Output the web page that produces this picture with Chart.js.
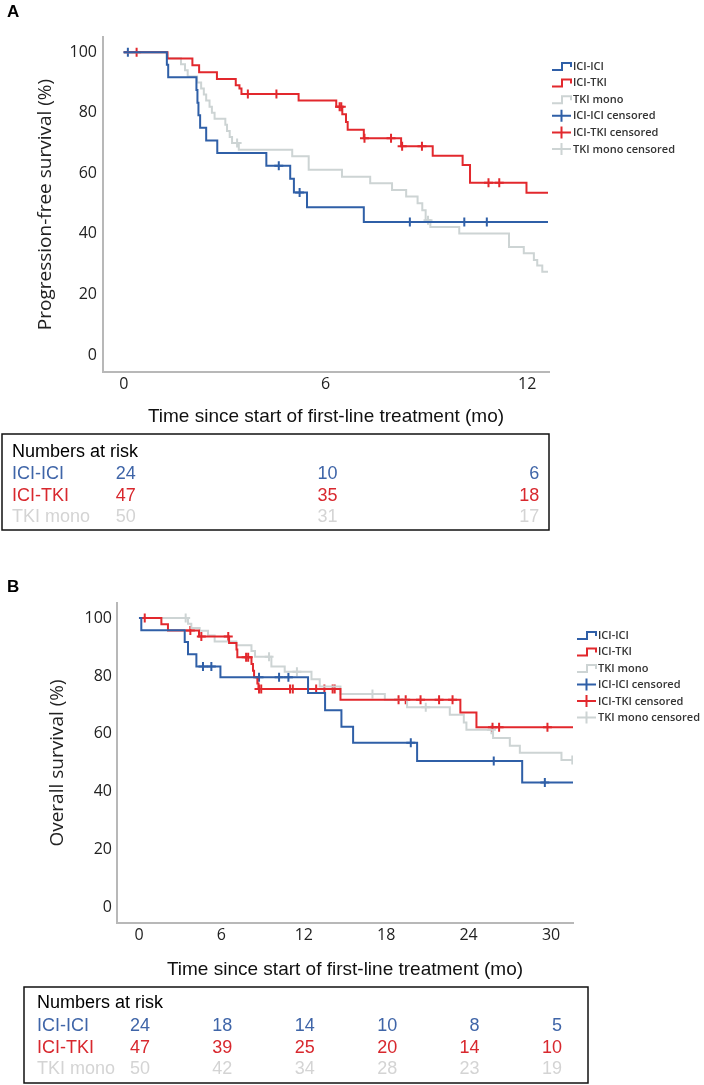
<!DOCTYPE html>
<html>
<head>
<meta charset="utf-8">
<script src="https://cdn.jsdelivr.net/npm/chart.js@4.4.1/dist/chart.umd.min.js"></script>
<style>
  html, body { margin: 0; padding: 0; background: #fff; }
  body { width: 704px; height: 1085px; position: relative; overflow: hidden; }
  canvas { position: absolute; left: 0; }
  #pfs { top: 0; }
  #os { top: 540px; }
</style>
</head>
<body>
<canvas id="pfs" width="704" height="540"></canvas>
<canvas id="os" width="704" height="545"></canvas>
<script>
// groups
const groups = ['ICI-ICI', 'ICI-TKI', 'TKI mono'];
const lineColors = ['#2f5fa7', '#e2282d', '#cdd4d4'];
const riskColors = ['#3f65a8', '#d8282e', '#d4d4d4'];

// A: progression-free survival (time in months, survival in %)
const pfsTicks = [0, 6, 12];
const pfsIciIciTime = [0, 1.28, 1.32, 2.16, 2.19, 2.22, 2.27, 2.45, 2.78, 4.24, 4.95, 5.06, 5.45, 7.14, 12.62];
const pfsIciIciSurv = [100, 95.8, 91.7, 87.5, 83.3, 79.2, 75.0, 70.8, 66.7, 62.5, 58.2, 53.7, 48.8, 43.9, 43.9];
const pfsIciIciCens = [0.12, 4.61, 5.23, 8.51, 10.13, 10.8];
const pfsIciTkiTime = [0, 1.3, 2.04, 2.24, 2.77, 3.33, 3.44, 3.5, 5.2, 6.32, 6.5, 6.61, 6.66, 7.14, 8.25, 9.19, 10.08, 10.3, 11.98, 12.62];
const pfsIciTkiSurv = [100, 97.9, 95.7, 93.4, 91.1, 89.1, 88.0, 86.2, 84.0, 82.0, 79.5, 76.9, 74.4, 71.6, 68.9, 65.8, 62.7, 56.9, 53.6, 53.6];
const pfsIciTkiCens = [0.38, 3.69, 4.54, 6.42, 6.47, 7.16, 7.95, 8.28, 8.87, 10.85, 11.17];
const pfsTkiMonoTime = [0, 1.28, 1.7, 1.82, 1.9, 2.18, 2.3, 2.38, 2.45, 2.55, 2.62, 2.7, 3.02, 3.07, 3.15, 3.22, 3.42, 5.01, 5.5, 6.49, 7.33, 7.98, 8.4, 8.74, 8.88, 8.98, 9.12, 9.98, 11.46, 11.9, 12.2, 12.3, 12.45, 12.62];
const pfsTkiMonoSurv = [100, 98, 96, 94, 92, 90, 88, 86, 84, 82, 80, 78, 76, 74, 72, 70, 67.8, 65.6, 61.2, 58.9, 56.7, 54.5, 52.3, 50.1, 47.8, 44.5, 42.3, 40.1, 35.7, 33.6, 31.4, 29.6, 27.5, 27.5];
const pfsTkiMonoCens = [3.37, 9.05];
const pfsRiskTimes = [0, 6, 12];
const pfsRiskIciIci = [24, 10, 6];
const pfsRiskIciTki = [47, 35, 18];
const pfsRiskTkiMono = [50, 31, 17];

// B: overall survival
const osTicks = [0, 6, 12, 18, 24, 30];
const osIciIciTime = [0, 0.17, 3.33, 3.57, 4.18, 5.93, 12.31, 13.55, 14.74, 15.59, 20.25, 27.9, 31.6];
const osIciIciSurv = [100, 95.8, 91.7, 87.5, 83.3, 79.6, 74.1, 68.2, 62.5, 56.9, 50.6, 43.2, 43.2];
const osIciIciCens = [4.66, 5.27, 8.74, 10.2, 10.88, 19.79, 25.83, 29.55];
const osIciTkiTime = [0, 1.63, 2.11, 4.37, 6.56, 7.1, 7.16, 8.19, 8.3, 8.38, 8.62, 8.7, 14.67, 23.4, 24.57, 31.6];
const osIciTkiSurv = [100, 97.9, 95.7, 93.6, 91.4, 89.1, 86.5, 84.1, 81.8, 79.6, 77.4, 75.5, 71.8, 67.4, 62.3, 62.3];
const osIciTkiCens = [0.42, 3.74, 4.54, 6.5, 7.8, 7.95, 8.74, 8.9, 11.0, 11.2, 12.9, 13.5, 14.1, 14.25, 18.9, 19.42, 20.5, 21.85, 22.83, 25.74, 26.22, 29.74];
const osTkiMonoTime = [0, 3.57, 3.81, 4.42, 5.03, 5.51, 7.09, 8.19, 8.45, 9.64, 10.61, 12.56, 13.16, 14.67, 17.9, 19.52, 22.63, 23.65, 23.84, 25.78, 27.0, 27.73, 30.76, 31.6];
const osTkiMonoSurv = [100, 98, 96.6, 95.6, 94.0, 91.9, 90.6, 88.6, 86.6, 83.3, 81.5, 78.9, 76.4, 73.8, 71.8, 69.2, 66.6, 63.9, 61.4, 58.6, 55.9, 53.5, 51.0, 51.0];
const osTkiMonoCens = [3.4, 9.47, 11.5, 17.0, 20.88, 25.66, 31.55];
const osRiskTimes = [0, 6, 12, 18, 24, 30];
const osRiskIciIci = [24, 18, 14, 10, 8, 5];
const osRiskIciTki = [47, 39, 25, 20, 14, 10];
const osRiskTkiMono = [50, 42, 34, 28, 23, 19];

const yTicks = [0, 20, 40, 60, 80, 100];

function toPoints(times, surv) {
    return times.map((t, i) => ({ x: t, y: surv[i] }));
}

// censor marks sit on the curve level at that time
function censorPoints(times, surv, cens) {
    return cens.map(c => {
        let y = surv[0];
        for (let i = 0; i < times.length; i++) {
            if (times[i] <= c) y = surv[i];
        }
        return { x: c, y: y };
    });
}

const kmDecor = {
    id: 'kmDecor',
    afterDraw(chart, args, o) {
        const ctx = chart.ctx;
        const xs = chart.scales.x;
        ctx.save();

        // panel letter
        ctx.fillStyle = '#000';
        ctx.font = 'bold 17px "Liberation Sans", Arial, sans-serif';
        ctx.textBaseline = 'middle';
        ctx.textAlign = 'left';
        ctx.fillText(o.letter, o.letterX, o.letterY);

        // legend
        ctx.font = '600 11px "Open Sans", sans-serif';
        ctx.lineWidth = 2;
        const entries = [];
        groups.forEach((g, i) => entries.push({ text: g, color: lineColors[i], cens: false }));
        groups.forEach((g, i) => entries.push({ text: g + ' censored', color: lineColors[i], cens: true }));
        entries.forEach((e, k) => {
            const lx = o.legendX, ly = o.legendY + k * o.legendStep;
            ctx.strokeStyle = e.color;
            ctx.beginPath();
            if (e.cens) {
                ctx.moveTo(lx, ly); ctx.lineTo(lx + 19, ly);
                ctx.moveTo(lx + 9.5, ly - 6); ctx.lineTo(lx + 9.5, ly + 6);
            } else {
                ctx.moveTo(lx, ly + 4); ctx.lineTo(lx + 10, ly + 4);
                ctx.lineTo(lx + 10, ly - 3); ctx.lineTo(lx + 19, ly - 3);
                ctx.lineTo(lx + 19, ly + 1);
            }
            ctx.stroke();
            ctx.fillStyle = '#333';
            ctx.fillText(e.text, lx + 21, ly + 0.5);
        });

        // numbers at risk
        const b = o.box;
        ctx.strokeStyle = '#111';
        ctx.lineWidth = 1.5;
        ctx.strokeRect(b[0], b[1], b[2] - b[0], b[3] - b[1]);
        ctx.font = '18px "Liberation Sans", Arial, sans-serif';
        ctx.fillStyle = '#000';
        ctx.textAlign = 'left';
        ctx.fillText('Numbers at risk', o.tableX, o.rowY[0]);
        o.risk.forEach((row, i) => {
            ctx.fillStyle = riskColors[i];
            ctx.textAlign = 'left';
            ctx.fillText(groups[i], o.tableX, o.rowY[i + 1]);
            ctx.textAlign = 'right';
            row.forEach((n, j) => {
                ctx.fillText(String(n), xs.getPixelForValue(o.riskTimes[j]) + o.riskShift, o.rowY[i + 1]);
            });
        });
        ctx.restore();
    }
};

function kmChart(id, cfg) {
    const datasets = [];
    cfg.curves.forEach((c, i) => {
        datasets.push({
            data: toPoints(c.t, c.s),
            borderColor: lineColors[i],
            borderWidth: 2,
            stepped: 'before',
            pointRadius: 0,
            fill: false
        });
    });
    cfg.curves.forEach((c, i) => {
        datasets.push({
            data: censorPoints(c.t, c.s, c.c),
            showLine: false,
            borderColor: lineColors[i],
            backgroundColor: lineColors[i],
            pointStyle: 'cross',
            pointRadius: 4.5,
            borderWidth: 2
        });
    });

    return new Chart(document.getElementById(id), {
        type: 'line',
        data: { datasets: datasets },
        options: {
            responsive: false,
            animation: false,
            events: [],
            layout: { padding: cfg.padding },
            plugins: {
                legend: { display: false },
                tooltip: { enabled: false },
                kmDecor: cfg.decor
            },
            scales: {
                x: {
                    type: 'linear',
                    min: cfg.xMin,
                    max: cfg.xMax,
                    grid: { display: false, drawTicks: false },
                    border: { color: '#b8b8b8', width: 2 },
                    ticks: {
                        padding: 3,
                        color: '#222',
                        font: { family: '"Open Sans", sans-serif', size: 16 }
                    },
                    afterBuildTicks: s => { s.ticks = cfg.xTicks.map(v => ({ value: v })); },
                    afterFit: s => { s.height = 60; },
                    title: {
                        display: true,
                        text: 'Time since start of first-line treatment (mo)',
                        color: '#111',
                        font: { family: '"Liberation Sans", Arial, sans-serif', size: 19 },
                        padding: { top: 0, bottom: cfg.xTitlePad }
                    }
                },
                y: {
                    min: cfg.yMin,
                    max: cfg.yMax,
                    grid: { display: false, drawTicks: false },
                    border: { color: '#b8b8b8', width: 2 },
                    ticks: {
                        padding: cfg.yTickPad,
                        color: '#222',
                        font: { family: '"Open Sans", sans-serif', size: 16 }
                    },
                    afterBuildTicks: s => { s.ticks = yTicks.map(v => ({ value: v })); },
                    afterFit: s => { s.width = cfg.yWidth; },
                    title: {
                        display: true,
                        text: cfg.yTitle,
                        color: '#222',
                        font: { family: '"Open Sans", sans-serif', size: 19 },
                        padding: { top: cfg.yTitlePad, bottom: 0 }
                    }
                }
            }
        },
        plugins: [kmDecor]
    });
}

kmChart('pfs', {
    curves: [
        { t: pfsIciIciTime, s: pfsIciIciSurv, c: pfsIciIciCens },
        { t: pfsIciTkiTime, s: pfsIciTkiSurv, c: pfsIciTkiCens },
        { t: pfsTkiMonoTime, s: pfsTkiMonoSurv, c: pfsTkiMonoCens }
    ],
    xMin: -0.62, xMax: 12.65, xTicks: pfsTicks,
    yMin: -5.6, yMax: 105,
    yWidth: 103, yTickPad: 6, yTitlePad: 34, xTitlePad: 4,
    yTitle: 'Progression-free survival (%)',
    padding: { left: 0, top: 37, right: 155, bottom: 108 },
    decor: {
        letter: 'A', letterX: 7, letterY: 12,
        legendX: 552, legendY: 66, legendStep: 16.6,
        box: [2, 434, 549, 530], tableX: 12, rowY: [452, 474, 496, 517],
        risk: [pfsRiskIciIci, pfsRiskIciTki, pfsRiskTkiMono],
        riskTimes: pfsRiskTimes, riskShift: 12
    }
});

kmChart('os', {
    curves: [
        { t: osIciIciTime, s: osIciIciSurv, c: osIciIciCens },
        { t: osIciTkiTime, s: osIciTkiSurv, c: osIciTkiCens },
        { t: osTkiMonoTime, s: osTkiMonoSurv, c: osTkiMonoCens }
    ],
    xMin: -1.6, xMax: 31.6, xTicks: osTicks,
    yMin: -5.3, yMax: 105.2,
    yWidth: 117, yTickPad: 5, yTitlePad: 46, xTitlePad: 2,
    yTitle: 'Overall survival (%)',
    padding: { left: 0, top: 63, right: 131, bottom: 102 },
    decor: {
        letter: 'B', letterX: 7, letterY: 47,
        legendX: 577, legendY: 95, legendStep: 16.5,
        box: [24, 447, 588, 543], tableX: 37, rowY: [463, 486, 508, 529],
        risk: [osRiskIciIci, osRiskIciTki, osRiskTkiMono],
        riskTimes: osRiskTimes, riskShift: 11
    }
});
</script>
</body>
</html>
